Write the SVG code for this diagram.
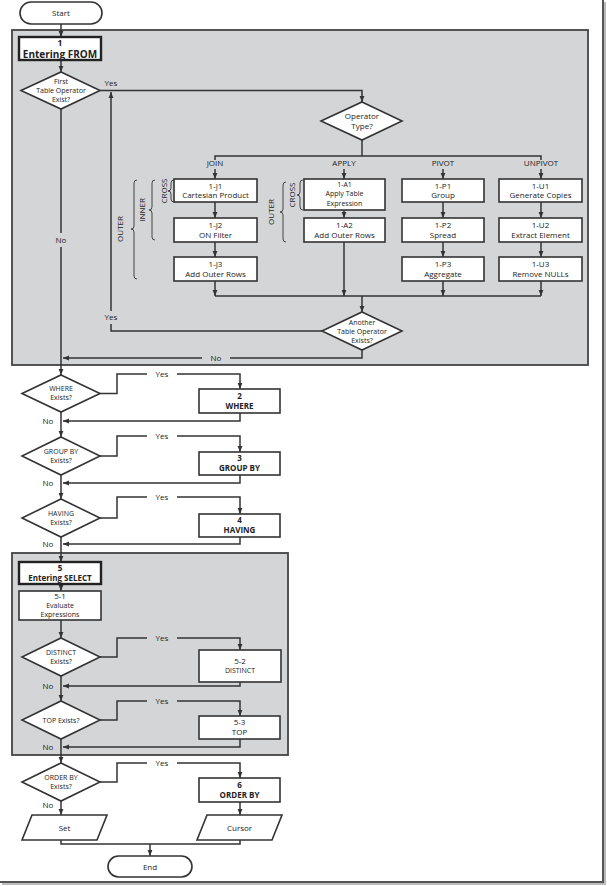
<svg xmlns="http://www.w3.org/2000/svg" width="607" height="886" viewBox="0 0 607 886">
<style>
text{font-family:"Open Sans","Noto Sans","DejaVu Sans",sans-serif;font-size:8px;fill:#222;text-anchor:middle}
.b{font-weight:bold}
.sm{font-size:7px}
.ln{stroke:#333;stroke-width:1.5;fill:none}
.box{fill:#fff;stroke:#333;stroke-width:1.6}
.tb{fill:#fff;stroke:#222;stroke-width:2.4}
.grp{fill:#d4d5d7;stroke:#444;stroke-width:1.8}
.br{stroke:#444;stroke-width:1;fill:none}
</style>
<defs>
<marker id="ah" viewBox="0 0 10 10" refX="10" refY="5" markerUnits="userSpaceOnUse" markerWidth="6" markerHeight="6" orient="auto"><path d="M0,1 L10,5 L0,9z" fill="#333"/></marker>
</defs>
<rect width="607" height="886" fill="#fff"/>
<!-- page frame -->
<g id="frame">
<path d="M605,2 V884 H2" stroke="#bbb" stroke-width="2" fill="none"/>
<path d="M603,0 V882 H0" stroke="#555" stroke-width="2" fill="none"/>
</g>
<!-- groups -->
<g id="from-group"><rect class="grp" x="12" y="30" width="576" height="335"/></g>
<g id="select-group"><rect class="grp" x="12" y="553" width="276" height="202"/></g>

<!-- connectors -->
<g id="connectors">
<path class="ln" d="M61,24 V37" marker-end="url(#ah)"/>
<path class="ln" d="M61,60 V72" marker-end="url(#ah)"/>
<path class="ln" d="M100,90.5 H362 V102" marker-end="url(#ah)"/>
<path class="ln" d="M362,140 V156"/>
<path class="ln" d="M215,160 V156 H541 V160"/>
<path class="ln" d="M215,169 V179" marker-end="url(#ah)"/>
<path class="ln" d="M344,169 V179" marker-end="url(#ah)"/>
<path class="ln" d="M443,169 V179" marker-end="url(#ah)"/>
<path class="ln" d="M541,169 V179" marker-end="url(#ah)"/>
<path class="ln" d="M215,202 V218" marker-end="url(#ah)"/>
<path class="ln" d="M215,242 V257" marker-end="url(#ah)"/>
<path class="ln" d="M344,210 V218" marker-end="url(#ah)"/>
<path class="ln" d="M443,202 V218" marker-end="url(#ah)"/>
<path class="ln" d="M443,242 V257" marker-end="url(#ah)"/>
<path class="ln" d="M541,202 V218" marker-end="url(#ah)"/>
<path class="ln" d="M541,242 V257" marker-end="url(#ah)"/>
<path class="ln" d="M215,281 V296" marker-end="url(#ah)"/>
<path class="ln" d="M344,242 V296" marker-end="url(#ah)"/>
<path class="ln" d="M443,281 V296" marker-end="url(#ah)"/>
<path class="ln" d="M541,281 V296" marker-end="url(#ah)"/>
<path class="ln" d="M215,296 H541"/>
<path class="ln" d="M362,296 V312" marker-end="url(#ah)"/>
<path class="ln" d="M322,331 H111 V324"/>
<path class="ln" d="M111,311 V92" marker-end="url(#ah)"/>
<path class="ln" d="M362,350 V358 H230"/>
<path class="ln" d="M202,358 H63" marker-end="url(#ah)"/>
<path class="ln" d="M61,109 V233"/>
<path class="ln" d="M61,247 V375" marker-end="url(#ah)"/>
<!-- WHERE -->
<path class="ln" d="M100,393.5 H117 V374 H147"/>
<path class="ln" d="M177,374 H240 V389" marker-end="url(#ah)"/>
<path class="ln" d="M240,413 V421 H63" marker-end="url(#ah)"/>
<path class="ln" d="M61,412 V437" marker-end="url(#ah)"/>
<!-- GROUP BY -->
<path class="ln" d="M100,456 H117 V436 H147"/>
<path class="ln" d="M177,436 H240 V452" marker-end="url(#ah)"/>
<path class="ln" d="M240,475 V483 H63" marker-end="url(#ah)"/>
<path class="ln" d="M61,475 V499" marker-end="url(#ah)"/>
<!-- HAVING -->
<path class="ln" d="M100,518 H117 V497 H147"/>
<path class="ln" d="M177,497 H240 V514" marker-end="url(#ah)"/>
<path class="ln" d="M240,537 V544 H63" marker-end="url(#ah)"/>
<path class="ln" d="M61,537 V562" marker-end="url(#ah)"/>
<!-- SELECT -->
<path class="ln" d="M61,584 V591" marker-end="url(#ah)"/>
<path class="ln" d="M61,620 V638" marker-end="url(#ah)"/>
<path class="ln" d="M100,657 H117 V638 H147"/>
<path class="ln" d="M177,638 H240 V650" marker-end="url(#ah)"/>
<path class="ln" d="M240,682 V686 H63" marker-end="url(#ah)"/>
<path class="ln" d="M61,676 V701" marker-end="url(#ah)"/>
<path class="ln" d="M100,720 H117 V701 H147"/>
<path class="ln" d="M177,701 H240 V716" marker-end="url(#ah)"/>
<path class="ln" d="M240,739 V747 H63" marker-end="url(#ah)"/>
<path class="ln" d="M61,739 V763" marker-end="url(#ah)"/>
<!-- ORDER BY -->
<path class="ln" d="M100,782 H117 V763 H147"/>
<path class="ln" d="M177,763 H240 V778" marker-end="url(#ah)"/>
<path class="ln" d="M240,802 V815" marker-end="url(#ah)"/>
<path class="ln" d="M61,801 V815" marker-end="url(#ah)"/>
<path class="ln" d="M61,840 V844 H240 V840"/>
<path class="ln" d="M150,844 V856" marker-end="url(#ah)"/>
</g>

<!-- connector labels -->
<g id="labels">
<text x="111" y="86">Yes</text>
<text x="111" y="320">Yes</text>
<text x="216" y="361">No</text>
<text x="61" y="243">No</text>
<text x="162" y="377">Yes</text>
<text x="48" y="424">No</text>
<text x="162" y="439">Yes</text>
<text x="48" y="486">No</text>
<text x="162" y="500">Yes</text>
<text x="48" y="547">No</text>
<text x="162" y="641">Yes</text>
<text x="48" y="689">No</text>
<text x="162" y="704">Yes</text>
<text x="48" y="750">No</text>
<text x="162" y="766">Yes</text>
<text x="48" y="808">No</text>
<text x="215" y="166">JOIN</text>
<text x="344" y="166">APPLY</text>
<text x="443" y="166">PIVOT</text>
<text x="541" y="166">UNPIVOT</text>
</g>

<!-- braces -->
<g id="braces">
<path class="br" d="M137,180 Q134,180 134,183 V226 Q134,229 131,229 Q134,229 134,232 V276 Q134,279 137,279"/>
<text transform="rotate(-90 123 229)" x="123" y="229">OUTER</text>
<path class="br" d="M155,180 Q152,180 152,183 V207 Q152,210 149,210 Q152,210 152,213 V237 Q152,240 155,240"/>
<text transform="rotate(-90 145 210)" x="145" y="210">INNER</text>
<path class="br" d="M174,180 Q171,180 171,183 V188 Q171,191 168,191 Q171,191 171,194 V199 Q171,202 174,202"/>
<text transform="rotate(-90 167 191)" x="167" y="191">CROSS</text>
<path class="br" d="M286,182 Q283,182 283,185 V209 Q283,212 280,212 Q283,212 283,215 V239 Q283,242 286,242"/>
<text transform="rotate(-90 274 212)" x="274" y="212">OUTER</text>
<path class="br" d="M303,180 Q300,180 300,183 V192 Q300,195 297,195 Q300,195 300,198 V207 Q300,210 303,210"/>
<text transform="rotate(-90 295 195)" x="295" y="195">CROSS</text>
</g>

<!-- nodes -->
<g id="start"><rect class="box" x="20" y="2" width="82" height="22" rx="11"/><text x="61" y="16">Start</text></g>
<g id="n1"><rect class="tb" x="19" y="37" width="82" height="23"/><text class="b" x="60" y="45.5" style="font-size:8.5px">1</text><text class="b" x="60" y="58" style="font-size:10px">Entering FROM</text></g>
<g id="d-first"><polygon class="box" points="61,72 100,90.5 61,109 21,90.5"/><text class="sm" x="61" y="84">First</text><text class="sm" x="61" y="93">Table Operator</text><text class="sm" x="61" y="102">Exist?</text></g>
<g id="d-optype"><polygon class="box" points="362,102 402,121 362,140 321,121"/><text x="362" y="119">Operator</text><text x="362" y="129">Type?</text></g>
<g id="j1"><rect class="box" x="174" y="179" width="83" height="23"/><text x="215.5" y="188.5">1-J1</text><text x="215.5" y="198">Cartesian Product</text></g>
<g id="j2"><rect class="box" x="174" y="218" width="83" height="24"/><text x="215.5" y="227.5">1-J2</text><text x="215.5" y="237.5">ON Filter</text></g>
<g id="j3"><rect class="box" x="174" y="257" width="83" height="24"/><text x="215.5" y="266.5">1-J3</text><text x="215.5" y="276.5">Add Outer Rows</text></g>
<g id="a1"><rect class="box" x="304" y="179" width="81" height="31"/><text class="sm" x="344.5" y="186.5">1-A1</text><text class="sm" x="344.5" y="196">Apply Table</text><text class="sm" x="344.5" y="205.5">Expression</text></g>
<g id="a2"><rect class="box" x="304" y="218" width="81" height="24"/><text x="344.5" y="227.5">1-A2</text><text x="344.5" y="237.5">Add Outer Rows</text></g>
<g id="p1"><rect class="box" x="402" y="179" width="82" height="23"/><text x="443" y="188.5">1-P1</text><text x="443" y="198">Group</text></g>
<g id="p2"><rect class="box" x="402" y="218" width="82" height="24"/><text x="443" y="227.5">1-P2</text><text x="443" y="237.5">Spread</text></g>
<g id="p3"><rect class="box" x="402" y="257" width="82" height="24"/><text x="443" y="266.5">1-P3</text><text x="443" y="276.5">Aggregate</text></g>
<g id="u1"><rect class="box" x="499" y="179" width="83" height="23"/><text x="540.5" y="188.5">1-U1</text><text x="540.5" y="198">Generate Copies</text></g>
<g id="u2"><rect class="box" x="499" y="218" width="83" height="24"/><text x="540.5" y="227.5">1-U2</text><text x="540.5" y="237.5">Extract Element</text></g>
<g id="u3"><rect class="box" x="499" y="257" width="83" height="24"/><text x="540.5" y="266.5">1-U3</text><text x="540.5" y="276.5">Remove NULLs</text></g>
<g id="d-another"><polygon class="box" points="362,312 402,331 362,350 322,331"/><text class="sm" x="362" y="325">Another</text><text class="sm" x="362" y="334">Table Operator</text><text class="sm" x="362" y="343">Exists?</text></g>

<g id="d-where"><polygon class="box" points="61,375 100,393.5 61,412 22,393.5"/><text class="sm" x="61" y="391">WHERE</text><text class="sm" x="61" y="400">Exists?</text></g>
<g id="n2"><rect class="box" x="199" y="389" width="81" height="24"/><text class="b" x="239.5" y="398.5">2</text><text class="b" x="239.5" y="408.5">WHERE</text></g>
<g id="d-groupby"><polygon class="box" points="61,437 100,456 61,475 22,456"/><text class="sm" x="61" y="453.5">GROUP BY</text><text class="sm" x="61" y="462.5">Exists?</text></g>
<g id="n3"><rect class="box" x="199" y="452" width="81" height="23"/><text class="b" x="239.5" y="461">3</text><text class="b" x="239.5" y="471">GROUP BY</text></g>
<g id="d-having"><polygon class="box" points="61,499 100,518 61,537 22,518"/><text class="sm" x="61" y="515.5">HAVING</text><text class="sm" x="61" y="524.5">Exists?</text></g>
<g id="n4"><rect class="box" x="199" y="514" width="81" height="23"/><text class="b" x="239.5" y="523">4</text><text class="b" x="239.5" y="533">HAVING</text></g>

<g id="n5"><rect class="tb" x="19" y="562" width="82" height="22"/><text class="b" x="60" y="571">5</text><text class="b" x="60" y="581">Entering SELECT</text></g>
<g id="n5-1"><rect class="box" x="19" y="591" width="82" height="29"/><text x="60" y="599">5-1</text><text class="sm" x="60" y="608">Evaluate</text><text class="sm" x="60" y="617">Expressions</text></g>
<g id="d-distinct"><polygon class="box" points="61,638 100,657 61,676 22,657"/><text class="sm" x="61" y="654.5">DISTINCT</text><text class="sm" x="61" y="663.5">Exists?</text></g>
<g id="n5-2"><rect class="box" x="199" y="650" width="82" height="32"/><text x="240" y="664">5-2</text><text class="sm" x="240" y="673">DISTINCT</text></g>
<g id="d-top"><polygon class="box" points="61,701 100,720 61,739 22,720"/><text class="sm" x="61" y="722.5">TOP Exists?</text></g>
<g id="n5-3"><rect class="box" x="199" y="716" width="81" height="23"/><text x="239.5" y="725">5-3</text><text x="239.5" y="735">TOP</text></g>

<g id="d-orderby"><polygon class="box" points="61,763 100,782 61,801 22,782"/><text class="sm" x="61" y="779.5">ORDER BY</text><text class="sm" x="61" y="788.5">Exists?</text></g>
<g id="n6"><rect class="box" x="199" y="778" width="81" height="24"/><text class="b" x="239.5" y="787.5">6</text><text class="b" x="239.5" y="797.5">ORDER BY</text></g>
<g id="set"><polygon class="box" points="32,815 107,815 97,840 22,840"/><text x="64.5" y="831">Set</text></g>
<g id="cursor"><polygon class="box" points="207,815 282,815 272,840 197,840"/><text x="239.5" y="831">Cursor</text></g>
<g id="end"><rect class="box" x="108" y="856" width="84" height="21" rx="10.5"/><text x="150" y="869.5">End</text></g>
</svg>
